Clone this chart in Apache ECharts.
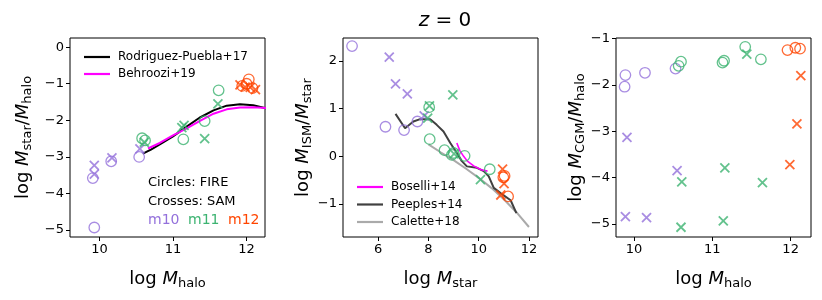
<!DOCTYPE html>
<html><head><meta charset="utf-8">
<script src="https://cdn.jsdelivr.net/npm/echarts@6/dist/echarts.min.js"></script>
<style>html,body{margin:0;padding:0;background:#fff}#c{width:822px;height:300px}</style>
</head><body><div id="c"></div>
<script>
// ---------- Panel 1: log Mstar/Mhalo vs log Mhalo ----------
const p1_m10_fire = [[9.91,-3.58],[9.93,-4.93],[10.16,-3.12],[10.54,-3.0]];
const p1_m10_sam  = [[9.93,-3.23],[9.93,-3.47],[10.17,-3.03],[10.55,-2.78]];
const p1_m11_fire = [[10.58,-2.49],[10.62,-2.55],[11.14,-2.52],[11.43,-2.02],[11.62,-1.18]];
const p1_m11_sam  = [[10.61,-2.6],[11.12,-2.2],[11.15,-2.14],[11.43,-2.5],[11.61,-1.55]];
const p1_m12_fire = [[11.94,-1.06],[12.0,-1.0],[12.03,-0.88],[12.08,-1.12]];
const p1_m12_sam  = [[11.91,-1.03],[11.98,-1.09],[12.05,-1.1],[12.12,-1.16]];
const p1_rp17 = [[10.59,-2.91],[10.7,-2.8],[10.82,-2.66],[11.0,-2.44],[11.18,-2.18],[11.36,-1.93],[11.55,-1.73],[11.73,-1.6],[11.91,-1.56],[12.09,-1.59],[12.3,-1.69]];
const p1_b19  = [[10.66,-2.77],[10.82,-2.62],[11.0,-2.41],[11.18,-2.23],[11.36,-2.02],[11.55,-1.82],[11.73,-1.7],[11.91,-1.65],[12.09,-1.64],[12.3,-1.67]];
const p1_xticks = [10,11,12];
const p1_yticks = [0,-1,-2,-3,-4,-5];

// ---------- Panel 2: log MISM/Mstar vs log Mstar ----------
const p2_m10_fire = [[4.96,2.31],[6.29,0.62],[7.03,0.55],[7.56,0.73]];
const p2_m10_sam  = [[6.44,2.08],[6.69,1.52],[7.16,1.31],[7.83,0.85]];
const p2_m11_fire = [[8.03,1.03],[8.05,0.36],[8.64,0.13],[8.93,0.03],[9.0,0.07],[9.44,0.01],[10.44,-0.27]];
const p2_m11_sam  = [[8.04,1.06],[7.97,0.8],[8.97,1.29],[9.02,0.05],[10.07,-0.49]];
const p2_m12_fire = [[10.98,-0.44],[11.03,-0.41],[11.17,-0.84]];
const p2_m12_sam  = [[10.95,-0.27],[11.01,-0.57],[10.88,-0.81]];
const p2_boselli = [[9.13,0.28],[9.25,0.12],[9.4,0.0],[9.55,-0.1],[9.8,-0.2],[10.1,-0.28],[10.35,-0.31]];
const p2_peeples = [[6.69,0.89],[7.07,0.59],[7.4,0.73],[7.67,0.78],[8.07,0.78],[8.33,0.66],[8.6,0.52],[8.87,0.28],[9.13,0.07],[9.33,-0.1],[9.53,-0.21],[9.93,-0.24],[10.2,-0.31],[10.4,-0.42],[10.6,-0.66],[10.87,-0.77],[11.27,-0.92],[11.5,-1.19]];
const p2_calette = [[8.0,0.25],[8.5,0.08],[9.0,-0.08],[9.5,-0.26],[10.0,-0.45],[10.5,-0.66],[11.0,-0.9],[11.5,-1.17],[12.0,-1.48]];
const p2_xticks = [6,8,10,12];
const p2_yticks = [2,1,0,-1];

// ---------- Panel 3: log MCGM/Mhalo vs log Mhalo ----------
const p3_m10_fire = [[9.89,-1.79],[9.88,-2.04],[10.14,-1.74],[10.53,-1.65]];
const p3_m10_sam  = [[9.91,-3.13],[9.89,-4.84],[10.16,-4.86],[10.55,-3.85]];
const p3_m11_fire = [[10.57,-1.59],[10.6,-1.5],[11.13,-1.52],[11.15,-1.48],[11.42,-1.18],[11.62,-1.45]];
const p3_m11_sam  = [[10.61,-4.09],[10.6,-5.07],[11.16,-3.79],[11.14,-4.93],[11.44,-1.34],[11.64,-4.11]];
const p3_m12_fire = [[11.96,-1.25],[12.06,-1.2],[12.12,-1.22]];
const p3_m12_sam  = [[12.13,-1.8],[12.08,-2.84],[11.99,-3.72]];
const p3_xticks = [10,11,12];
const p3_yticks = [-1,-2,-3,-4,-5];

const C10 = '#9370DB', C11 = '#3CB371', C12 = '#FF4500';
const FONT = 'DejaVu Sans';
const CROSS = 'path://M0,0L10,10M10,0L0,10';

function fmt(v){ return String(v).replace('-', '\u2212'); }

function circ(name, data, color, gi){
  return {name, type:'scatter', xAxisIndex:gi, yAxisIndex:gi, data, symbol:'circle', symbolSize:10.5,
    itemStyle:{color:'rgba(0,0,0,0)', borderColor:color, borderWidth:1.3}, z:3};
}
function cross(name, data, color, gi){
  return {name, type:'scatter', xAxisIndex:gi, yAxisIndex:gi, data, symbol:CROSS, symbolSize:9,
    itemStyle:{color:'rgba(0,0,0,0)', borderColor:color, borderWidth:1.8}, z:3};
}
function line(name, data, color, w, gi){
  return {name, type:'line', xAxisIndex:gi, yAxisIndex:gi, data, symbol:'none', showSymbol:false,
    lineStyle:{color, width:w}, itemStyle:{color}, z:2};
}
const richName = {
  n:{fontFamily:FONT, fontSize:18, color:'#000'},
  i:{fontFamily:FONT, fontSize:18, fontStyle:'italic', color:'#000'},
  s:{fontFamily:FONT, fontSize:13, color:'#000', padding:[9,0,0,0]}
};
function xAx(gi, min, max, ticks, sub){
  return {type:'value', gridIndex:gi, min, max, position:'bottom',
    name:'{n|log }{i|M}{s|'+sub+'}', nameLocation:'middle', nameGap:31,
    nameTextStyle:{rich:richName},
    splitLine:{show:false}, axisLine:{show:false, onZero:false},
    axisTick:{show:true, inside:false, length:4, lineStyle:{color:'#000'}, customValues:ticks},
    axisLabel:{fontFamily:FONT, fontSize:13, color:'#000', margin:6, customValues:ticks, formatter:fmt}};
}
function yAx(gi, min, max, ticks, nameStr, gap){
  return {type:'value', gridIndex:gi, min, max, position:'left',
    name:nameStr, nameLocation:'middle', nameGap:gap, nameRotate:90,
    nameTextStyle:{rich:richName},
    splitLine:{show:false}, axisLine:{show:false, onZero:false},
    axisTick:{show:true, inside:false, length:4, lineStyle:{color:'#000'}, customValues:ticks},
    axisLabel:{fontFamily:FONT, fontSize:13, color:'#000', margin:6, customValues:ticks, formatter:fmt}};
}
const gridBase = {top:38, height:199, width:195, show:true, borderColor:'#000', borderWidth:1, backgroundColor:'rgba(0,0,0,0)'};
const legText = {fontFamily:FONT, fontSize:12, color:'#000', padding:[0,0,0,3]};

const option = {
  animation:false,
  backgroundColor:'#fff',
  title:{text:'{i|z}{n| = 0}', left:440, top:6, textAlign:'center',
    textStyle:{fontWeight:'normal', rich:{i:{fontFamily:FONT, fontSize:20, fontStyle:'italic', fontWeight:'normal', color:'#000'}, n:{fontFamily:FONT, fontSize:20, fontWeight:'normal', color:'#000'}}}},
  grid:[
    Object.assign({left:70}, gridBase),
    Object.assign({left:343}, gridBase),
    Object.assign({left:616}, gridBase)
  ],
  xAxis:[
    xAx(0, 9.6, 12.25, p1_xticks, 'halo'),
    xAx(1, 4.6, 12.36, p2_xticks, 'star'),
    xAx(2, 9.77, 12.26, p3_xticks, 'halo')
  ],
  yAxis:[
    yAx(0, -5.19, 0.25, p1_yticks, '{n|log }{i|M}{s|star}{n|/}{i|M}{s|halo}', 36),
    yAx(1, -1.69, 2.48, p2_yticks, '{n|log }{i|M}{s|ISM}{n|/}{i|M}{s|star}', 20),
    yAx(2, -5.28, -0.99, p3_yticks, '{n|log }{i|M}{s|CGM}{n|/}{i|M}{s|halo}', 20)
  ],
  legend:[
    {data:['Rodriguez-Puebla+17','Behroozi+19'], orient:'vertical', left:79, top:46, icon:'rect', itemWidth:26, itemHeight:2.2, itemGap:5,
      textStyle:legText, selectedMode:false},
    {data:['Boselli+14','Peeples+14','Calette+18'], orient:'vertical', left:352, top:176, icon:'rect', itemWidth:26, itemHeight:2.2, itemGap:5.5,
      textStyle:legText, selectedMode:false}
  ],
  graphic:[
    {type:'text', left:148, top:176, style:{text:'Circles: FIRE', fontFamily:FONT, fontSize:13, fill:'#000'}},
    {type:'text', left:148, top:195, style:{text:'Crosses: SAM', fontFamily:FONT, fontSize:13, fill:'#000'}},
    {type:'text', left:148, top:213, style:{text:'m10', fontFamily:FONT, fontSize:14, fill:C10}},
    {type:'text', left:188, top:213, style:{text:'m11', fontFamily:FONT, fontSize:14, fill:C11}},
    {type:'text', left:228, top:213, style:{text:'m12', fontFamily:FONT, fontSize:14, fill:C12}}
  ],
  series:[
    line('Rodriguez-Puebla+17', p1_rp17, '#000', 2, 0),
    line('Behroozi+19', p1_b19, '#FF00FF', 2, 0),
    circ('p1a', p1_m10_fire, C10, 0), cross('p1b', p1_m10_sam, C10, 0),
    circ('p1c', p1_m11_fire, C11, 0), cross('p1d', p1_m11_sam, C11, 0),
    circ('p1e', p1_m12_fire, C12, 0), cross('p1f', p1_m12_sam, C12, 0),

    line('Calette+18', p2_calette, '#AAAAAA', 2, 1),
    line('Peeples+14', p2_peeples, '#404040', 2, 1),
    line('Boselli+14', p2_boselli, '#FF00FF', 1.6, 1),
    circ('p2a', p2_m10_fire, C10, 1), cross('p2b', p2_m10_sam, C10, 1),
    circ('p2c', p2_m11_fire, C11, 1), cross('p2d', p2_m11_sam, C11, 1),
    circ('p2e', p2_m12_fire, C12, 1), cross('p2f', p2_m12_sam, C12, 1),

    circ('p3a', p3_m10_fire, C10, 2), cross('p3b', p3_m10_sam, C10, 2),
    circ('p3c', p3_m11_fire, C11, 2), cross('p3d', p3_m11_sam, C11, 2),
    circ('p3e', p3_m12_fire, C12, 2), cross('p3f', p3_m12_sam, C12, 2)
  ]
};
const chart = echarts.init(document.getElementById('c'), null, {renderer:'canvas'});
chart.setOption(option);
</script>
</body></html>
